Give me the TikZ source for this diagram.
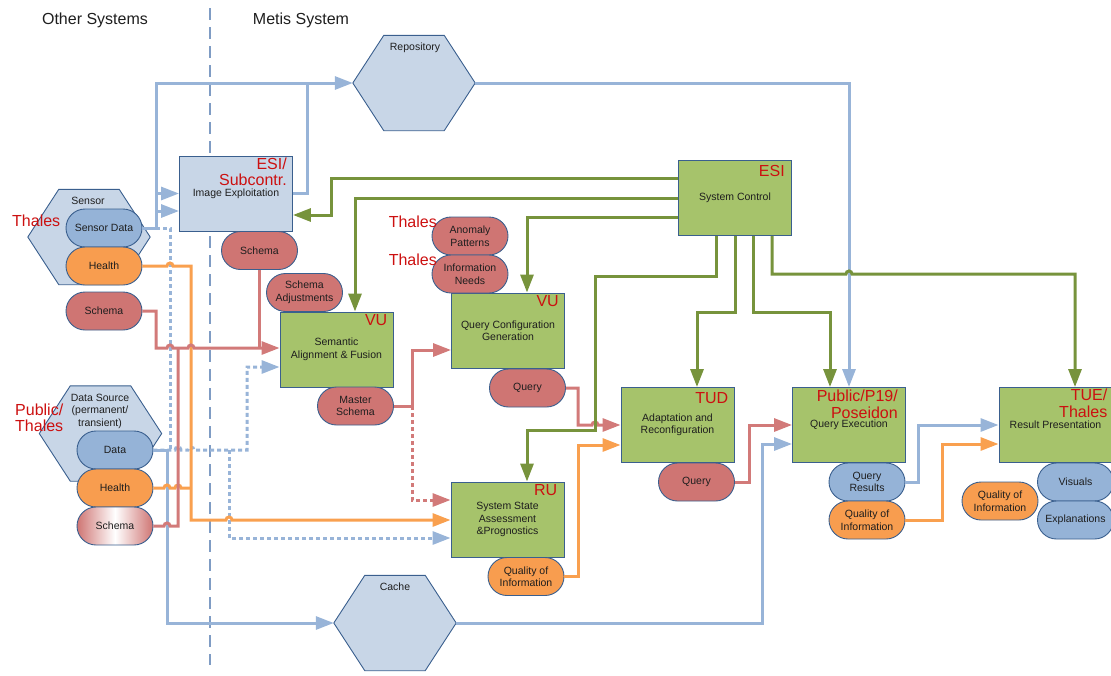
\documentclass[tikz,border=0pt]{standalone}
\usepackage{fontspec}
\setmainfont{Liberation Sans}
\usetikzlibrary{arrows.meta,shapes.misc,calc}
\definecolor{sepc}{HTML}{7F9CC4}
\definecolor{bordc}{HTML}{3A5F8E}
\definecolor{hexfill}{HTML}{C8D6E7}
\definecolor{boxg}{HTML}{A6C36B}
\definecolor{pillb}{HTML}{95B3D7}
\definecolor{pillo}{HTML}{F89D4F}
\definecolor{pillr}{HTML}{CF7573}
\definecolor{lblue}{HTML}{98B4D8}
\definecolor{lorange}{HTML}{F9A04F}
\definecolor{lred}{HTML}{D27A79}
\definecolor{lgreen}{HTML}{77933C}
\definecolor{redt}{HTML}{CC1010}
\definecolor{txt}{HTML}{1E1E1E}
\newcommand{\mynodefont}{\fontsize{10.5}{12.5}\selectfont}
\newcommand{\mywhofont}{\fontsize{16}{16.5}\selectfont}
\newcommand{\myheadfont}{\fontsize{16}{18}\selectfont}
\begin{document}
\begin{tikzpicture}[x=1pt,y=-1pt,
  box/.style={draw=bordc, line width=0.9pt, fill=boxg, minimum width=113pt, minimum height=75pt, align=center, font=\mynodefont, text=txt, inner sep=0pt},
  pill/.style={rounded rectangle, draw=bordc, line width=0.9pt, minimum width=76pt, minimum height=38pt, align=center, font=\mynodefont, text=txt, inner sep=0pt},
  pb/.style={pill, fill=pillb},
  po/.style={pill, fill=pillo},
  pr/.style={pill, fill=pillr},
  who/.style={text=redt, font=\mywhofont, inner sep=0pt, align=right, anchor=north east},
  hexn/.style={minimum width=122pt, minimum height=95pt, inner sep=0pt},
  hexline/.style={draw=bordc, line width=0.9pt, fill=hexfill},
  lbl/.style={font=\mynodefont, text=txt, align=center, inner sep=0pt},
  conn/.style={line width=3pt},
  bl/.style={conn, draw=lblue},
  bld/.style={bl, dash pattern=on 4pt off 3pt},
  orl/.style={conn, draw=lorange},
  rdl/.style={conn, draw=lred},
  rdd/.style={rdl, dash pattern=on 4pt off 3pt},
  grl/.style={conn, draw=lgreen},
  arr/.style={-{Triangle[length=18pt,width=13pt]}},
  sepline/.style={draw=sepc, line width=1.8pt, dash pattern=on 12pt off 7pt}
]
\useasboundingbox (0,0) rectangle (1111,675);

% headers
\node[font=\myheadfont, text=txt, inner sep=0pt] (hother) at (95,20) {Other Systems};
\node[font=\myheadfont, text=txt, inner sep=0pt] (hmetis) at (301,20) {Metis System};

% separator
\coordinate (septop) at (210,8);
\coordinate (sepbot) at (210,665);
\draw[sepline] (septop) -- (sepbot);

% hexagons
\node[hexn] (repo) at (414,83) {};
\node[hexn] (cache) at (395,623) {};
\node[hexn] (sensor) at (89,237) {};
\node[hexn] (dsrc) at (100.5,433.5) {};
\foreach \h in {repo,cache,sensor,dsrc}{
  \draw[hexline] (\h.west) -- ($(\h.north west)+(31,0)$) -- ($(\h.north east)+(-31,0)$) -- (\h.east) -- ($(\h.south east)+(-31,0)$) -- ($(\h.south west)+(31,0)$) -- cycle;
}
\node[lbl] (repolbl) at (415,48) {Repository};
\node[lbl] (cachelbl) at (395,587) {Cache};
\node[lbl] (sensorlbl) at (88,201) {Sensor};
\node[lbl] (dsrclbl) at (100,411) {Data Source\\(permanent/\\transient)};

% boxes
\node[box, fill=hexfill] (ie) at (236,193.5) {Image Exploitation};
\node[box] (saf) at (336.5,349.5) {Semantic\\Alignment \& Fusion};
\node[box] (qcg) at (508,330.5) {Query Configuration\\Generation};
\node[box] (ssa) at (507.5,519.5) {System State\\Assessment\\\&Prognostics};
\node[box] (ar) at (677.5,425) {Adaptation and\\Reconfiguration};
\node[box] (sc) at (735,198) {System Control};
\node[box] (qe) at (849,425) {Query Execution};
\node[box] (rp) at (1055.5,425) {Result Presentation};

% pills
\node[pb] (sdata) at (104,228) {Sensor Data};
\node[po] (shealth) at (104,266) {Health};
\node[pr] (sschema) at (104,311) {Schema};
\node[pb] (data) at (115,450) {Data};
\node[po] (dhealth) at (115,488) {Health};
\node[pill, left color=pillr, right color=pillr, middle color=white] (dschema) at (115,526) {Schema};
\node[pr] (ieschema) at (259.5,250.5) {Schema};
\node[pr] (sadj) at (304.5,292.5) {Schema\\Adjustments};
\node[pr] (mschema) at (355.5,406) {Master\\Schema};
\node[pr] (anom) at (470,236) {Anomaly\\Patterns};
\node[pr] (infon) at (470,274) {Information\\Needs};
\node[pr] (qcgq) at (527.5,388) {Query};
\node[po] (ssaq) at (526,576.5) {Quality of\\Information};
\node[pr] (arq) at (696.5,482) {Query};
\node[pb] (qres) at (867,482) {Query\\Results};
\node[po] (qeq) at (867,520) {Quality of\\Information};
\node[po] (rpq) at (1000,501) {Quality of\\Information};
\node[pb] (vis) at (1075.5,482) {Visuals};
\node[pb] (expl) at (1075.5,520) {Explanations};

% owners
\node[who] (w1) at ($(ie.north east)+(-6,2)$) {ESI/\\Subcontr.};
\node[who] (w2) at ($(saf.north east)+(-6,3)$) {VU};
\node[who] (w3) at ($(qcg.north east)+(-6,3)$) {VU};
\node[who] (w4) at ($(ssa.north east)+(-7,3)$) {RU};
\node[who] (w5) at ($(ar.north east)+(-6,5)$) {TUD};
\node[who] (w6) at ($(sc.north east)+(-7,5)$) {ESI};
\node[who] (w7) at ($(qe.north east)+(-8,3)$) {Public/P19/\\Poseidon};
\node[who] (w8) at ($(rp.north east)+(-5,2)$) {TUE/\\Thales};
\node[text=redt, font=\mywhofont, inner sep=0pt, anchor=west] (t1) at (12,221) {Thales};
\node[text=redt, font=\mywhofont, inner sep=0pt, anchor=west, align=left] (t2) at (15,418) {Public/\\Thales};
\node[text=redt, font=\mywhofont, inner sep=0pt, anchor=east] (t3) at (437,222) {Thales};
\node[text=redt, font=\mywhofont, inner sep=0pt, anchor=east] (t4) at (437,260) {Thales};

% ---------- blue solid
\coordinate (b1) at (156,228);
\coordinate (b1t) at (156,83);
\draw[bl,arr] (sdata.east) -- (b1) -- (b1t) -- (repo.west);
\coordinate (b2) at (156,193.5);
\draw[bl,arr] (b2) -- (ie.west);
\coordinate (b3) at (156,211);
\draw[bl,arr] (b3) -- (b3 -| ie.west);
\coordinate (b4) at (307,83);
\draw[bl] (ie.east) -| (b4);
\draw[bl,arr] (repo.east) -| (qe.north);
\coordinate (b6) at (167,623);
\draw[bl,arr] (data.east) -| (b6) -- (cache.west);
\coordinate (b7) at (762,444);
\draw[bl,arr] (cache.east) -| (b7) -- (b7 -| qe.west);
\coordinate (b8) at (918,425);
\draw[bl,arr] (qres.east) -| (b8) -- (rp.west);

% ---------- blue dotted
\coordinate (d1) at (170,228);
\coordinate (d2) at (170,450);
\draw[bld] (b1) -- (d1) -- (d2);
\coordinate (d3) at (247,450);
\coordinate (d4) at (247,367);
\draw[bld,arr] (data.east) -- (175,450) arc[start angle=180,end angle=0,radius=3pt] -- (188,450) arc[start angle=180,end angle=0,radius=3pt] -- (d3) -- (d4) -- (d4 -| saf.west);
\coordinate (d5) at (229,450);
\coordinate (d6) at (229,538);
\draw[bld,arr] (d5) -- (d6) -- (d6 -| ssa.west);

% ---------- orange
\coordinate (o1) at (191,266);
\coordinate (o2) at (191,520);
\draw[orl,arr] (shealth.east) -- (167,266) arc[start angle=180,end angle=0,radius=3pt] -- (o1) -- (o2) -- (226,520) arc[start angle=180,end angle=0,radius=3pt] -- (o2 -| ssa.west);
\draw[orl] (dhealth.east) -- (164,488) arc[start angle=180,end angle=0,radius=3pt] -- (175,488) arc[start angle=180,end angle=0,radius=3pt] -- (dhealth.east -| o1);
\coordinate (o3) at (578,445);
\draw[orl,arr] (ssaq.east) -| (o3) -- (o3 -| ar.west);
\coordinate (o4) at (942,444);
\draw[orl,arr] (qeq.east) -| (o4) -- (o4 -| rp.west);

% ---------- red
\coordinate (r1) at (156,348);
\draw[rdl,arr] (sschema.east) -| (r1) -- (167,348) arc[start angle=180,end angle=0,radius=3pt] -- (188,348) arc[start angle=180,end angle=0,radius=3pt] -- (r1 -| saf.west);
\draw[rdl] (ieschema.south) -- (ieschema.south |- r1);
\coordinate (r3) at (178,348);
\draw[rdl] (dschema.east) -- (164,526) arc[start angle=180,end angle=0,radius=3pt] -- (r3 |- dschema.east) -- (r3);
\coordinate (r4) at (412,350);
\draw[rdl,arr] (mschema.east) -| (r4) -- (r4 -| qcg.west);
\coordinate (r5) at (412,500);
\draw[rdd,arr] (mschema.east -| r4) -- (r5) -- (r5 -| ssa.west);
\coordinate (r6) at (578,425);
\draw[rdl,arr] (qcgq.east) -| (r6) -- (592,425) arc[start angle=180,end angle=0,radius=3pt] -- (r6 -| ar.west);
\coordinate (r7) at (749,425);
\draw[rdl,arr] (arq.east) -| (r7) -- (qe.west);

% ---------- green
\coordinate (g1a) at (331,178);
\coordinate (g1b) at (331,215);
\draw[grl,arr] (g1a -| sc.west) -- (g1a) -- (g1b) -- (g1b -| ie.east);
\coordinate (g2a) at (355,198);
\draw[grl,arr] (sc.west) -- (g2a) -- (g2a |- saf.north);
\coordinate (g3a) at (527,217);
\draw[grl,arr] (g3a -| sc.west) -- (g3a) -- (g3a |- qcg.north);
\coordinate (g4a) at (716,276);
\coordinate (g4b) at (595,276);
\coordinate (g4c) at (595,430);
\coordinate (g4d) at (527,430);
\draw[grl,arr] (g4a |- sc.south) -- (g4a) -- (g4b) -- (g4c) -- (g4d) -- (g4d |- ssa.north);
\coordinate (g5a) at (735,312);
\coordinate (g5b) at (697,312);
\draw[grl,arr] (g5a |- sc.south) -- (g5a) -- (g5b) -- (g5b |- ar.north);
\coordinate (g6a) at (753,312);
\coordinate (g6b) at (830,312);
\draw[grl,arr] (g6a |- sc.south) -- (g6a) -- (g6b) -- (g6b |- qe.north);
\coordinate (g7a) at (772,274);
\coordinate (g7b) at (1075,274);
\draw[grl,arr] (g7a |- sc.south) -- (g7a) -- (846,274) arc[start angle=180,end angle=0,radius=3pt] -- (g7b) -- (g7b |- rp.north);
\end{tikzpicture}
\end{document}
